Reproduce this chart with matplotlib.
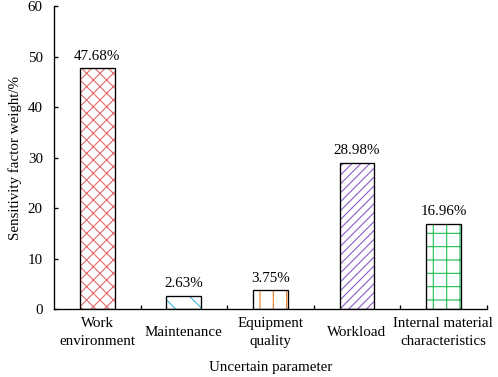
import matplotlib
matplotlib.use('Agg')
import matplotlib.pyplot as plt

categories = ['Work\nenvironment', 'Maintenance', 'Equipment\nquality', 'Workload', 'Internal material\ncharacteristics']
weights = [47.68, 2.63, 3.75, 28.98, 16.96]
value_labels = ['47.68%', '2.63%', '3.75%', '28.98%', '16.96%']
y_ticks = [0, 10, 20, 30, 40, 50, 60]

hatch_colors = ['#e46a6a', '#3db8e8', '#f07a22', '#8c5cc8', '#1fbf55']
hatches = ['xx', '\\', '|', '///', '+']

plt.rcParams['font.family'] = ['Liberation Serif', 'DejaVu Serif']
plt.rcParams['hatch.linewidth'] = 1.0

fs = 13.5

fig = plt.figure(figsize=(498 / 80, 377 / 80), dpi=80)
ax = fig.add_axes([0.1084, 0.1796, 0.8689, 0.8045])

x = list(range(len(categories)))

# hatch layer first, black outline on top
for i in x:
    ax.bar(i, weights[i], width=0.4, color='white', edgecolor=hatch_colors[i],
           hatch=hatches[i], linewidth=0, zorder=2)
    ax.bar(i, weights[i], width=0.4, fill=False, edgecolor='black',
           linewidth=1.2, zorder=3)
    ax.annotate(value_labels[i], (i, weights[i]), xytext=(0, 5),
                textcoords='offset points', ha='center', va='bottom', fontsize=fs)

ax.set_xlim(-0.5, 4.5)
ax.set_ylim(0, 60)
ax.set_yticks(y_ticks)

ax.set_xticks(x)
ax.set_xticklabels(categories, fontsize=fs, linespacing=1.45)
ax.set_xticks([0.5, 1.5, 2.5, 3.5, 4.5], minor=True)
ax.tick_params(axis='x', which='major', length=0, pad=21)
ax.tick_params(axis='x', which='minor', direction='in', length=4, width=1.2)
for lbl in ax.get_xticklabels():
    lbl.set_verticalalignment('center')

ax.tick_params(axis='y', direction='in', length=4, width=1.2, labelsize=fs, pad=10)

ax.spines['top'].set_visible(False)
ax.spines['right'].set_visible(False)
ax.spines['left'].set_linewidth(1.2)
ax.spines['bottom'].set_linewidth(1.2)

ax.set_xlabel('Uncertain parameter', fontsize=fs, labelpad=12)
ax.set_ylabel('Sensitivity factor weight/%', fontsize=fs, labelpad=5)

fig.savefig('out.png', dpi=80)
